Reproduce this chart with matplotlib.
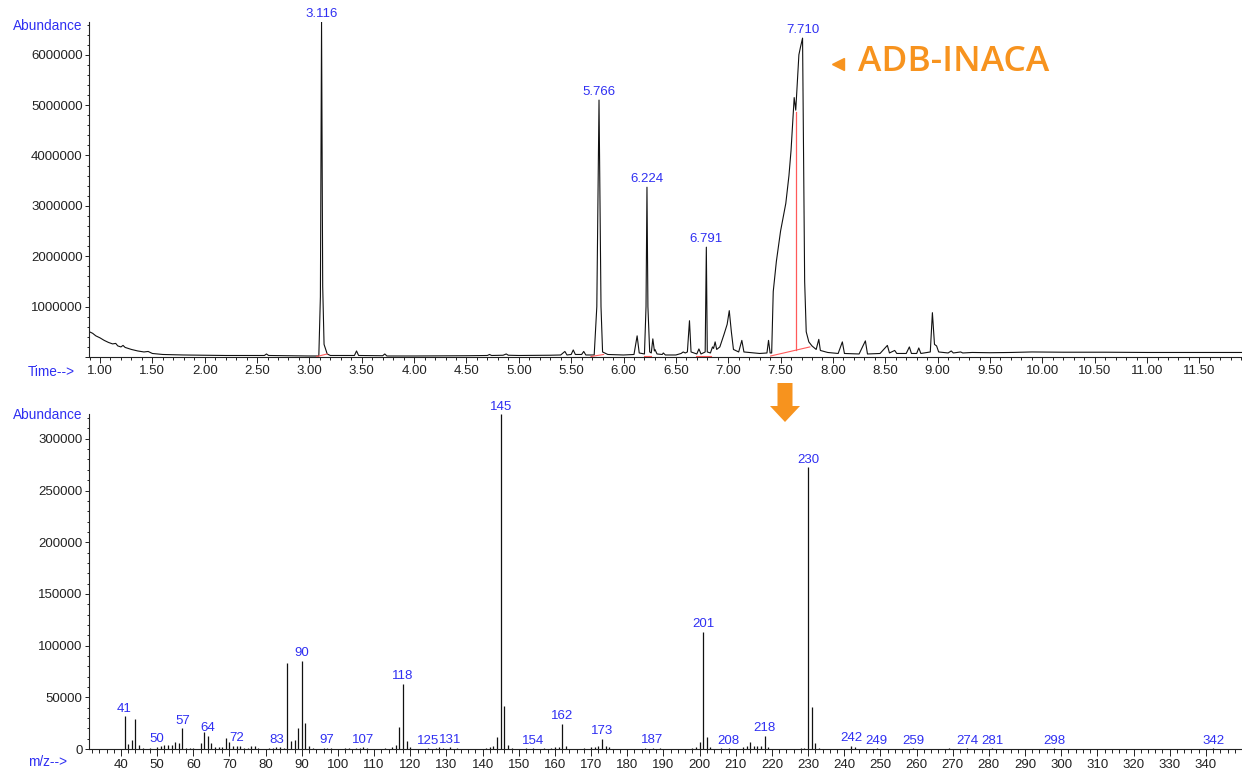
import matplotlib
matplotlib.use('Agg')
import matplotlib.pyplot as plt
import numpy as np
from matplotlib.ticker import MultipleLocator, FormatStrFormatter, NullFormatter
from matplotlib.patches import FancyArrow
from matplotlib.lines import Line2D

# --- total ion chromatogram (time in min, abundance)
tic_time = [0.90, 0.93, 0.96, 1.00, 1.04, 1.08, 1.12, 1.15, 1.17, 1.20, 1.22, 1.24, 1.30, 1.36,
            1.42, 1.46, 1.50, 1.60, 1.70, 1.80, 2.00, 2.20, 2.40, 2.57, 2.59, 2.61, 2.80, 3.00,
            3.09, 3.105, 3.116, 3.127, 3.14, 3.17, 3.20, 3.43, 3.45, 3.47, 3.70, 3.72, 3.74,
            4.00, 4.50, 4.70, 4.72, 4.74, 4.85, 4.88, 4.90, 5.00, 5.30, 5.40, 5.44, 5.46, 5.50,
            5.52, 5.54, 5.60, 5.62, 5.64, 5.72, 5.745, 5.766, 5.785, 5.80, 5.85, 6.00, 6.10,
            6.13, 6.15, 6.20, 6.215, 6.224, 6.233, 6.25, 6.265, 6.28, 6.295, 6.30, 6.32, 6.37,
            6.38, 6.40, 6.50, 6.55, 6.57, 6.59, 6.61, 6.63, 6.645, 6.70, 6.72, 6.74, 6.78,
            6.791, 6.80, 6.83, 6.85, 6.86, 6.875, 6.89, 6.92, 6.96, 6.99, 7.01, 7.03, 7.05,
            7.10, 7.13, 7.15, 7.30, 7.37, 7.385, 7.40, 7.415, 7.43, 7.46, 7.50, 7.55, 7.58,
            7.60, 7.63, 7.645, 7.675, 7.69, 7.71, 7.72, 7.73, 7.745, 7.77, 7.80, 7.84, 7.865,
            7.88, 7.95, 8.05, 8.09, 8.11, 8.25, 8.31, 8.33, 8.45, 8.52, 8.54, 8.59, 8.61, 8.70,
            8.73, 8.75, 8.80, 8.82, 8.84, 8.93, 8.95, 8.97, 8.99, 9.01, 9.10, 9.13, 9.15, 9.22,
            9.24, 9.33, 9.50, 9.70, 9.90, 10.20, 10.60, 11.00, 11.50, 11.92]
tic_abund = [0.50, 0.47, 0.42, 0.38, 0.33, 0.29, 0.26, 0.27, 0.22, 0.20, 0.23, 0.19, 0.15, 0.12,
             0.10, 0.11, 0.07, 0.05, 0.045, 0.04, 0.035, 0.03, 0.03, 0.03, 0.06, 0.03, 0.025, 0.02,
             0.02, 1.2, 6.65, 1.4, 0.25, 0.06, 0.03, 0.03, 0.12, 0.03, 0.025, 0.06, 0.02,
             0.02, 0.025, 0.03, 0.05, 0.03, 0.035, 0.06, 0.035, 0.03, 0.035, 0.04, 0.11, 0.04, 0.05,
             0.14, 0.05, 0.05, 0.11, 0.04, 0.04, 1.0, 5.1, 1.0, 0.10, 0.05, 0.04, 0.05,
             0.42, 0.08, 0.06, 1.0, 3.37, 1.0, 0.10, 0.08, 0.36, 0.12, 0.15, 0.06, 0.05,
             0.08, 0.04, 0.04, 0.07, 0.10, 0.08, 0.10, 0.72, 0.10, 0.06, 0.16, 0.06, 0.10,
             2.18, 0.10, 0.08, 0.20, 0.17, 0.30, 0.15, 0.20, 0.45, 0.65, 0.92, 0.50, 0.15,
             0.10, 0.33, 0.10, 0.07, 0.08, 0.33, 0.08, 0.08, 1.3, 1.9, 2.5, 3.05, 3.6,
             4.1, 5.15, 4.9, 6.0, 6.15, 6.33, 4.0, 1.5, 0.50, 0.30, 0.22, 0.15, 0.35,
             0.13, 0.09, 0.07, 0.30, 0.07, 0.06, 0.32, 0.06, 0.07, 0.23, 0.08, 0.13, 0.07, 0.07,
             0.20, 0.07, 0.07, 0.18, 0.07, 0.10, 0.88, 0.25, 0.22, 0.10, 0.08, 0.12, 0.08, 0.10,
             0.08, 0.09, 0.085, 0.09, 0.10, 0.095, 0.095, 0.09, 0.09, 0.09]
tic_abund = [v * 1e6 for v in tic_abund]

peak_rt = [3.116, 5.766, 6.224, 6.791, 7.710]

# integration baselines (start time, start abund, end time, end abund)
base_t0 = [3.07, 5.69, 6.20, 6.69, 7.405]
base_y0 = [0.01e6, 0.01e6, 0.02e6, 0.02e6, 0.02e6]
base_t1 = [3.17, 5.81, 6.26, 6.84, 7.78]
base_y1 = [0.06e6, 0.05e6, 0.02e6, 0.02e6, 0.20e6]
split_t = 7.645
split_top = 4.87e6

# --- mass spectrum (m/z, abundance)
mz = [41, 42, 43, 44, 45, 46, 48, 50, 51, 52, 53, 54, 55, 56, 57, 58, 59, 60,
      62, 63, 64, 65, 66, 67, 68, 69, 70, 71, 72, 73, 74, 75, 76, 77, 78,
      81, 82, 83, 84, 85, 86, 87, 88, 89, 90, 91, 92, 93, 96, 97, 98,
      102, 103, 105, 106, 107, 108, 113, 115, 116, 117, 118, 119, 120,
      125, 127, 128, 129, 131, 133, 141, 142, 143, 144, 145, 146, 147, 148,
      152, 154, 157, 159, 160, 161, 162, 163, 168, 170, 171, 172, 173, 174, 175,
      185, 187, 189, 198, 199, 200, 201, 202, 203,
      206, 208, 212, 213, 214, 215, 216, 217, 218, 219,
      228, 229, 230, 231, 232, 233, 242, 243, 249, 259, 269, 274, 281, 298, 342]
intensity = [31900, 4800, 8400, 28700, 3500, 800, 700, 2200, 3200, 3900, 3500, 3500, 6800, 5500, 20300, 1300, 1300, 600,
             6100, 16000, 12900, 5800, 1900, 1600, 1600, 11000, 7100, 3200, 3200, 3200, 1300, 1300, 2900, 3200, 1000,
             1000, 1300, 1600, 1600, 1000, 82900, 7700, 8700, 20000, 85500, 25200, 2900, 1000, 1000, 1300, 800,
             1200, 1400, 1000, 1200, 1500, 1000, 1000, 2000, 4000, 21300, 63000, 7400, 1500,
             1000, 1200, 1500, 1000, 1500, 1000, 1000, 1500, 2500, 11300, 324000, 42000, 4200, 1000,
             1000, 1000, 1000, 1000, 1500, 2000, 24600, 2500, 1000, 1500, 2000, 3000, 10000, 2600, 2000,
             1000, 1200, 800, 1000, 2000, 6500, 113500, 11600, 1500,
             800, 1000, 2000, 3200, 6500, 2500, 2500, 2500, 12900, 1500,
             800, 1000, 272500, 40400, 5800, 1000, 3200, 1500, 600, 800, 800, 800, 900, 700, 600]
labeled_mz = [41, 50, 57, 64, 72, 83, 90, 97, 107, 118, 125, 131, 145, 154, 162, 173, 187,
              201, 208, 218, 230, 242, 249, 259, 274, 281, 298, 342]

blue = '#2f2ff2'
orange = '#f7931e'
red = '#ff5a5a'
W, H = 1242, 774

plt.rcParams['font.family'] = ['Liberation Sans', 'DejaVu Sans']
fig = plt.figure(figsize=(W / 100, H / 100), dpi=100)


def style_axis(ax):
    for s in ['top', 'right']:
        ax.spines[s].set_visible(False)
    for s in ['left', 'bottom']:
        ax.spines[s].set_linewidth(0.8)
        ax.spines[s].set_color('#222222')
    ax.tick_params(axis='both', which='both', direction='out', width=0.7,
                   color='#222222', labelsize=9.5, labelcolor='#222222')
    ax.tick_params(axis='y', which='major', length=3, pad=1.5)
    ax.tick_params(axis='y', which='minor', length=1.5)


# top panel: chromatogram
ax1 = fig.add_axes([89 / W, 1 - 357 / H, 1 - 89 / W, (357 - 22) / H])
ax1.plot(tic_time, tic_abund, color='#111111', lw=0.8)
for t0, y0, t1, y1 in zip(base_t0, base_y0, base_t1, base_y1):
    ax1.plot([t0, t1], [y0, y1], color=red, lw=0.8)
split_base = np.interp(split_t, [base_t0[-1], base_t1[-1]], [base_y0[-1], base_y1[-1]])
ax1.plot([split_t, split_t], [split_base, split_top], color=red, lw=0.9)

tt = np.array(tic_time)
aa = np.array(tic_abund)
for rt in peak_rt:
    top = aa[np.abs(tt - rt) < 0.02].max()
    ax1.annotate(f'{rt:.3f}', (rt, top), xytext=(0, 1.5), textcoords='offset points',
                 ha='center', va='bottom', color=blue, fontsize=9.5, annotation_clip=False)

ax1.set_xlim(0.895, 11.907)
ax1.set_ylim(0, max(tic_abund))
style_axis(ax1)
ax1.xaxis.set_major_locator(MultipleLocator(0.5))
ax1.xaxis.set_minor_locator(MultipleLocator(0.1))
ax1.xaxis.set_major_formatter(FormatStrFormatter('%.2f'))
ax1.tick_params(axis='x', which='major', length=4.5, pad=1.5)
ax1.tick_params(axis='x', which='minor', length=2.5)
ax1.yaxis.set_major_locator(MultipleLocator(1e6))
ax1.yaxis.set_minor_locator(MultipleLocator(2e5))
ax1.yaxis.set_major_formatter(lambda v, p: '' if v == 0 else f'{v:.0f}')

fig.text(13 / W, 1 - 26 / H, 'Abundance', color=blue, fontsize=9.8, va='center', ha='left')
fig.text(28 / W, 1 - 372 / H, 'Time-->', color=blue, fontsize=9.8, va='center', ha='left')

# bottom panel: mass spectrum
ax2 = fig.add_axes([89 / W, 1 - 749 / H, 1 - 89 / W, (749 - 414) / H])
ax2.vlines(mz, 0, intensity, color='#111111', lw=0.9)
for m in labeled_mz:
    h = intensity[mz.index(m)]
    ax2.annotate(str(m), (m, h), xytext=(0, 1), textcoords='offset points',
                 ha='center', va='bottom', color=blue, fontsize=9.5, annotation_clip=False)
ax2.set_xlim(31.15, 350.0)
ax2.set_ylim(0, max(intensity))
style_axis(ax2)
ax2.xaxis.set_major_locator(MultipleLocator(10))
ax2.xaxis.set_minor_locator(MultipleLocator(2))
ax2.xaxis.set_major_formatter(FormatStrFormatter('%d'))
ax2.set_xticks(np.arange(40, 341, 10))
ax2.tick_params(axis='x', which='major', length=5, pad=2)
ax2.tick_params(axis='x', which='minor', length=3)
ax2.yaxis.set_major_locator(MultipleLocator(50000))
ax2.yaxis.set_minor_locator(MultipleLocator(10000))
ax2.yaxis.set_major_formatter(FormatStrFormatter('%d'))

fig.text(13 / W, 1 - 415 / H, 'Abundance', color=blue, fontsize=9.8, va='center', ha='left')
fig.text(28 / W, 1 - 762 / H, 'm/z-->', color=blue, fontsize=9.8, va='center', ha='left')

# annotations: compound name and arrow between panels
fig.text(858 / W, 1 - 62 / H, 'ADB-INACA', color=orange, fontsize=25.5, fontweight='semibold',
         family='Open Sans', va='center', ha='left')
fig.add_artist(Line2D([838 / W], [1 - 64 / H], marker='<', markersize=8.5, color=orange,
                      linestyle='none', transform=fig.transFigure))
fig.add_artist(FancyArrow(785 / W, 1 - 383 / H, 0, -(422 - 383) / H, width=15 / W,
                          head_width=30 / W, head_length=16 / H, length_includes_head=True,
                          color=orange, transform=fig.transFigure, lw=0))

fig.savefig('out.png', dpi=100)
